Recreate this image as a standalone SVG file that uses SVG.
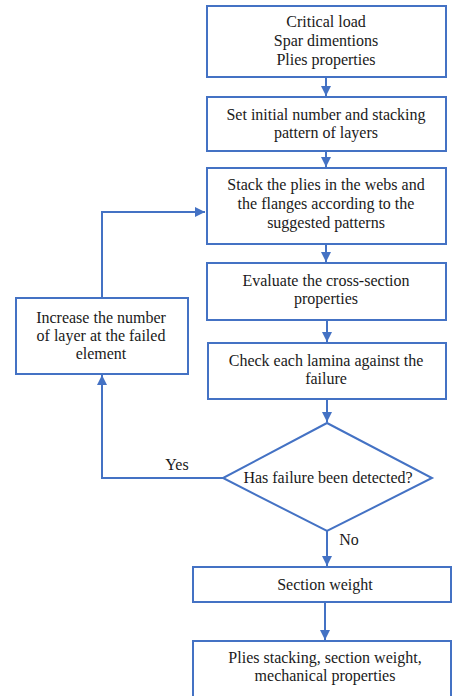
<svg xmlns="http://www.w3.org/2000/svg" width="452" height="696" viewBox="0 0 452 696" font-family="'Liberation Serif', 'Times New Roman', Times, serif">
<style>
.box{fill:#fff;stroke:#4472C4;stroke-width:2}
.ln{fill:none;stroke:#4472C4;stroke-width:2}
text{font-family:'Liberation Serif','Times New Roman',Times,serif;font-size:16px;fill:#1a1a1a;text-anchor:middle}
</style>
<defs>
<marker id="ah" viewBox="0 0 10 10" refX="10" refY="5" markerWidth="5" markerHeight="5" orient="auto" markerUnits="strokeWidth">
<path d="M0,0L10,5L0,10z" fill="#4472C4"/>
</marker>
</defs>
<rect width="452" height="696" fill="#fff"/>
<g id="connectors">
<path class="ln" d="M326,77V96" marker-end="url(#ah)"/>
<path class="ln" d="M326,151V167" marker-end="url(#ah)"/>
<path class="ln" d="M326,244V262" marker-end="url(#ah)"/>
<path class="ln" d="M327,320V342" marker-end="url(#ah)"/>
<path class="ln" d="M327,399V422" marker-end="url(#ah)"/>
<path class="ln" d="M327,531V566" marker-end="url(#ah)"/>
<path class="ln" d="M325,602V640" marker-end="url(#ah)"/>
<path class="ln" d="M223,478H102V375" marker-end="url(#ah)"/>
<path class="ln" d="M102,298V212H205" marker-end="url(#ah)"/>
<text x="177" y="470">Yes</text>
<text x="349" y="545">No</text>
</g>
<g id="n1"><rect class="box" x="207" y="6" width="239" height="71"/>
<text x="326" y="27">Critical load</text><text x="326" y="46">Spar dimentions</text><text x="326" y="65">Plies properties</text></g>
<g id="n2"><rect class="box" x="207" y="97" width="239" height="54"/>
<text x="326" y="120">Set initial number and stacking</text><text x="326" y="138">pattern of layers</text></g>
<g id="n3"><rect class="box" x="207" y="168" width="239" height="76"/>
<text x="326" y="190">Stack the plies in the webs and</text><text x="326" y="209">the flanges according to the</text><text x="326" y="228">suggested patterns</text></g>
<g id="n4"><rect class="box" x="207" y="263" width="239" height="57"/>
<text x="326" y="286">Evaluate the cross-section</text><text x="326" y="304">properties</text></g>
<g id="n5"><rect class="box" x="208" y="343" width="238" height="56"/>
<text x="326" y="366">Check each lamina against the</text><text x="326" y="384">failure</text></g>
<g id="n6"><rect class="box" x="16" y="298" width="172" height="76"/>
<text x="101" y="323">Increase the number</text><text x="101" y="341">of layer at the failed</text><text x="101" y="359">element</text></g>
<g id="n7"><path class="box" d="M327,423L432,478L327,531L223,478z"/>
<text x="328" y="483">Has failure been detected?</text></g>
<g id="n8"><rect class="box" x="193" y="567" width="258" height="35"/>
<text x="325" y="590">Section weight</text></g>
<g id="n9"><rect class="box" x="193" y="641" width="258" height="60"/>
<text x="325" y="663">Plies stacking, section weight,</text><text x="325" y="681">mechanical properties</text></g>
</svg>
